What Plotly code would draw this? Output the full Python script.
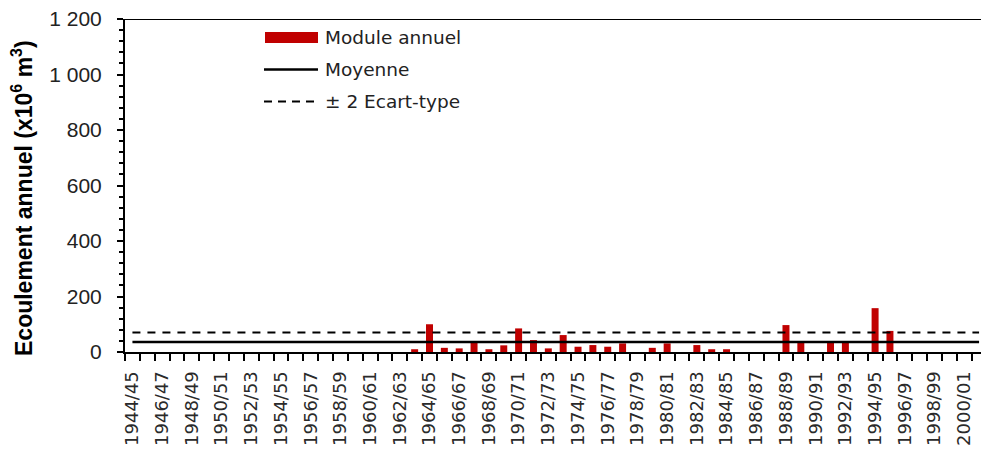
import plotly.graph_objects as go

categories = [
    "1944/45", "1945/46", "1946/47", "1947/48", "1948/49", "1949/50", "1950/51", "1951/52",
    "1952/53", "1953/54", "1954/55", "1955/56", "1956/57", "1957/58", "1958/59", "1959/60",
    "1960/61", "1961/62", "1962/63", "1963/64", "1964/65", "1965/66", "1966/67", "1967/68",
    "1968/69", "1969/70", "1970/71", "1971/72", "1972/73", "1973/74", "1974/75", "1975/76",
    "1976/77", "1977/78", "1978/79", "1979/80", "1980/81", "1981/82", "1982/83", "1983/84",
    "1984/85", "1985/86", "1986/87", "1987/88", "1988/89", "1989/90", "1990/91", "1991/92",
    "1992/93", "1993/94", "1994/95", "1995/96", "1996/97", "1997/98", "1998/99", "1999/00",
    "2000/01", "2001/02",
]

module_annuel = [
    None, None, None, None, None, None, None, None,
    None, None, None, None, None, None, None, None,
    None, None, None, 10, 100, 15, 13, 37,
    10, 24, 85, 43, 13, 61, 19, 25,
    19, 31, None, 15, 31, None, 25, 10,
    10, None, None, None, 97, 35, None, 35,
    35, None, 158, 76, None, None, None, None,
    None, None,
]

moyenne = 36
plus_2_ecart_type = 70

y_ticks = [0, 200, 400, 600, 800, 1000, 1200]

RED = "#C00000"

fig = go.Figure()

fig.add_trace(go.Bar(
    x=categories, y=module_annuel, marker=dict(color=RED, line=dict(width=0)),
    name="Module annuel", showlegend=False,
))
fig.add_trace(go.Scatter(
    x=categories, y=[moyenne] * len(categories), mode="lines",
    line=dict(color="black", width=2.5), name="Moyenne", showlegend=False,
))
fig.add_trace(go.Scatter(
    x=categories, y=[plus_2_ecart_type] * len(categories), mode="lines",
    line=dict(color="black", width=2, dash="8px,7px"), name="± 2 Ecart-type", showlegend=False,
))

# plot area: x 125..981, y 19..352 (pixels)
def px_x(p):
    return (p - 125) / 856.0

def px_y(p):
    return (352 - p) / 333.0

shapes = [
    dict(type="line", xref="paper", yref="y", x0=px_x(119), x1=1, y0=1200, y1=1200,
         line=dict(color="black", width=2)),
    dict(type="rect", xref="paper", yref="paper", x0=px_x(265), x1=px_x(318),
         y0=px_y(43), y1=px_y(32), fillcolor=RED, line=dict(width=0)),
    dict(type="line", xref="paper", yref="paper", x0=px_x(264), x1=px_x(318),
         y0=px_y(69.5), y1=px_y(69.5), line=dict(color="black", width=2.5)),
    dict(type="line", xref="paper", yref="paper", x0=px_x(264), x1=px_x(318),
         y0=px_y(101.5), y1=px_y(101.5), line=dict(color="black", width=2, dash="8px,6px")),
]

legend_font = dict(family="DejaVu Sans", size=18.5, color="#222222")
annotations = [
    dict(text="Module annuel", xref="paper", yref="paper", x=px_x(323), y=px_y(37.5),
         xanchor="left", yanchor="middle", showarrow=False, font=legend_font),
    dict(text="Moyenne", xref="paper", yref="paper", x=px_x(323), y=px_y(69.5),
         xanchor="left", yanchor="middle", showarrow=False, font=legend_font),
    dict(text="± 2 Ecart-type", xref="paper", yref="paper", x=px_x(323), y=px_y(101.5),
         xanchor="left", yanchor="middle", showarrow=False, font=legend_font),
    dict(text="<b>Ecoulement annuel (x10<sup>6</sup> m<sup>3</sup>)</b>", xref="paper", yref="paper",
         x=px_x(22), y=px_y(198), xanchor="center", yanchor="middle", textangle=-90,
         showarrow=False, font=dict(family="Liberation Sans", size=23, color="black")),
]

fig.update_layout(
    width=981, height=455,
    margin=dict(l=125, r=0, t=19, b=103, autoexpand=False),
    plot_bgcolor="white", paper_bgcolor="white",
    separators=". ",
    bargap=0.53,
    shapes=shapes, annotations=annotations,
    showlegend=False,
)

fig.update_xaxes(
    type="category", range=[-0.5, 57.13], automargin=False,
    showline=True, linecolor="black", linewidth=2,
    showgrid=False, zeroline=False,
    ticks="outside", ticklen=7, tickwidth=2, tickcolor="black",
    tickson="boundaries", tickmode="linear", dtick=1, ticklabelstep=2,
    tickangle=-90, ticklabelstandoff=10,
    tickfont=dict(family="DejaVu Sans", size=18, color="#2a2a2a"),
)
fig.update_yaxes(
    range=[0, 1200], tickmode="array", tickvals=y_ticks, separatethousands=True,
    automargin=False,
    showline=True, linecolor="black", linewidth=2,
    showgrid=False, zeroline=False,
    ticks="outside", ticklen=6, tickwidth=2, tickcolor="black",
    minor=dict(dtick=40, ticks="outside", ticklen=4, tickwidth=1.5, tickcolor="black", showgrid=False),
    ticklabelstandoff=11,
    tickfont=dict(family="Liberation Sans", size=21, color="#222222"),
)

fig.write_html(
    "out.html",
    config={"displayModeBar": False},
    post_script="document.body.style.margin='0';document.body.style.padding='0';",
)
